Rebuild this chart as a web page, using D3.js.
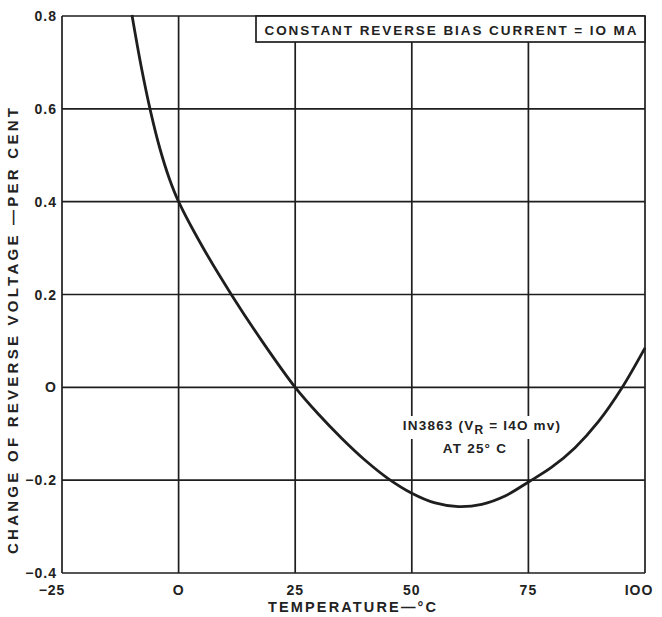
<!DOCTYPE html>
<html>
<head>
<meta charset="utf-8">
<script src="https://cdn.jsdelivr.net/npm/d3@7"></script>
<style>
  html, body { margin: 0; padding: 0; background: #fff; }
  svg { display: block; }
  text { font-family: "Liberation Sans", Arial, sans-serif; font-weight: bold; fill: #222; }
</style>
</head>
<body>
<svg id="chart" width="662" height="617"></svg>
<script>
// ---- data ----
const temperature = [-10, -8, -6, -4, -2, 0, 5, 11.5, 18, 25, 30, 35, 40, 45, 50, 55, 60, 65, 70, 75, 80, 85, 90, 95, 100];
const voltageChange = [0.802, 0.69, 0.594, 0.514, 0.45, 0.40, 0.305, 0.197, 0.098, 0.0, -0.058, -0.11, -0.157, -0.197, -0.228, -0.249, -0.257, -0.252, -0.234, -0.204, -0.172, -0.13, -0.074, -0.002, 0.085];
const xTicks = [-25, 0, 25, 50, 75, 100];
const xTickLabels = ["\u221225", "O", "25", "50", "75", "IOO"];
const yTicks = [0.8, 0.6, 0.4, 0.2, 0, -0.2, -0.4];
const yTickLabels = ["0.8", "0.6", "0.4", "0.2", "O", "\u22120.2", "\u22120.4"];
const boxLabel = "CONSTANT REVERSE BIAS CURRENT = IO MA";
const xTitle = "TEMPERATURE\u2014\u00B0C";
const yTitle = "CHANGE OF REVERSE VOLTAGE \u2014PER CENT";
const annotationLine2 = "AT 25\u00B0 C";

// ---- layout ----
const svg = d3.select("#chart");
const mLeft = 62, mRight = 645, mTop = 16, mBottom = 573;
const x = d3.scaleLinear().domain([-25, 100]).range([mLeft, mRight]);
const y = d3.scaleLinear().domain([-0.4, 0.8]).range([mBottom, mTop]);
const ink = "#1e1e1e";

// grid
const g = svg.append("g");
g.selectAll("line.vx").data(xTicks).join("line")
  .attr("x1", d => x(d)).attr("x2", d => x(d))
  .attr("y1", mTop).attr("y2", mBottom)
  .attr("stroke", ink).attr("stroke-width", 1.7);
g.selectAll("line.hy").data(yTicks).join("line")
  .attr("x1", mLeft).attr("x2", mRight)
  .attr("y1", d => y(d)).attr("y2", d => y(d))
  .attr("stroke", ink).attr("stroke-width", 1.7);

// tick labels
g.selectAll("text.yt").data(yTicks).join("text")
  .attr("x", mLeft - 5).attr("y", d => y(d) + 5)
  .attr("text-anchor", "end").attr("font-size", 14).attr("letter-spacing", 1)
  .text((d, i) => yTickLabels[i]);
g.selectAll("text.xt").data(xTicks).join("text")
  .attr("x", (d, i) => i === 0 ? x(d) - 10 : (i === xTicks.length - 1 ? x(d) - 6 : x(d)))
  .attr("y", mBottom + 22)
  .attr("text-anchor", "middle").attr("font-size", 14).attr("letter-spacing", 1)
  .text((d, i) => xTickLabels[i]);

// titles
svg.append("text").attr("x", 352).attr("y", 612)
  .attr("text-anchor", "middle").attr("font-size", 14.5)
  .attr("textLength", 168).attr("lengthAdjust", "spacing")
  .text(xTitle);
svg.append("text").attr("transform", "translate(18,331) rotate(-90)")
  .attr("text-anchor", "middle").attr("font-size", 15)
  .attr("textLength", 446).attr("lengthAdjust", "spacing")
  .text(yTitle);

// curve
const line = d3.line().x(d => x(d[0])).y(d => y(d[1])).curve(d3.curveCatmullRom.alpha(0.5));
svg.append("path").datum(d3.zip(temperature, voltageChange))
  .attr("d", line).attr("fill", "none").attr("stroke", ink).attr("stroke-width", 2.8);

// box label
svg.append("rect").attr("x", 256).attr("y", mTop).attr("width", mRight - 256).attr("height", 26)
  .attr("fill", "#fff").attr("stroke", ink).attr("stroke-width", 1.7);
svg.append("text").attr("x", (256 + mRight) / 2).attr("y", mTop + 19)
  .attr("text-anchor", "middle").attr("font-size", 13.5)
  .attr("textLength", 372).attr("lengthAdjust", "spacing")
  .text(boxLabel);

// annotation (white backing breaks grid lines like the original)
const annBg = svg.append("rect").attr("fill", "#fff");
const ann = svg.append("text").attr("x", 482).attr("y", 430)
  .attr("text-anchor", "middle").attr("font-size", 13.5).attr("letter-spacing", 1.2);
ann.append("tspan").text("IN3863 (V");
ann.append("tspan").attr("font-size", 12).attr("dy", 4).text("R");
ann.append("tspan").attr("dy", -4).text(" = I4O mv)");
const bb = ann.node().getBBox();
annBg.attr("x", bb.x - 2).attr("y", bb.y - 2).attr("width", bb.width + 4).attr("height", bb.height + 4);
svg.append("text").attr("x", 475).attr("y", 453)
  .attr("text-anchor", "middle").attr("font-size", 13.5).attr("letter-spacing", 1.2)
  .text(annotationLine2);
</script>
</body>
</html>
